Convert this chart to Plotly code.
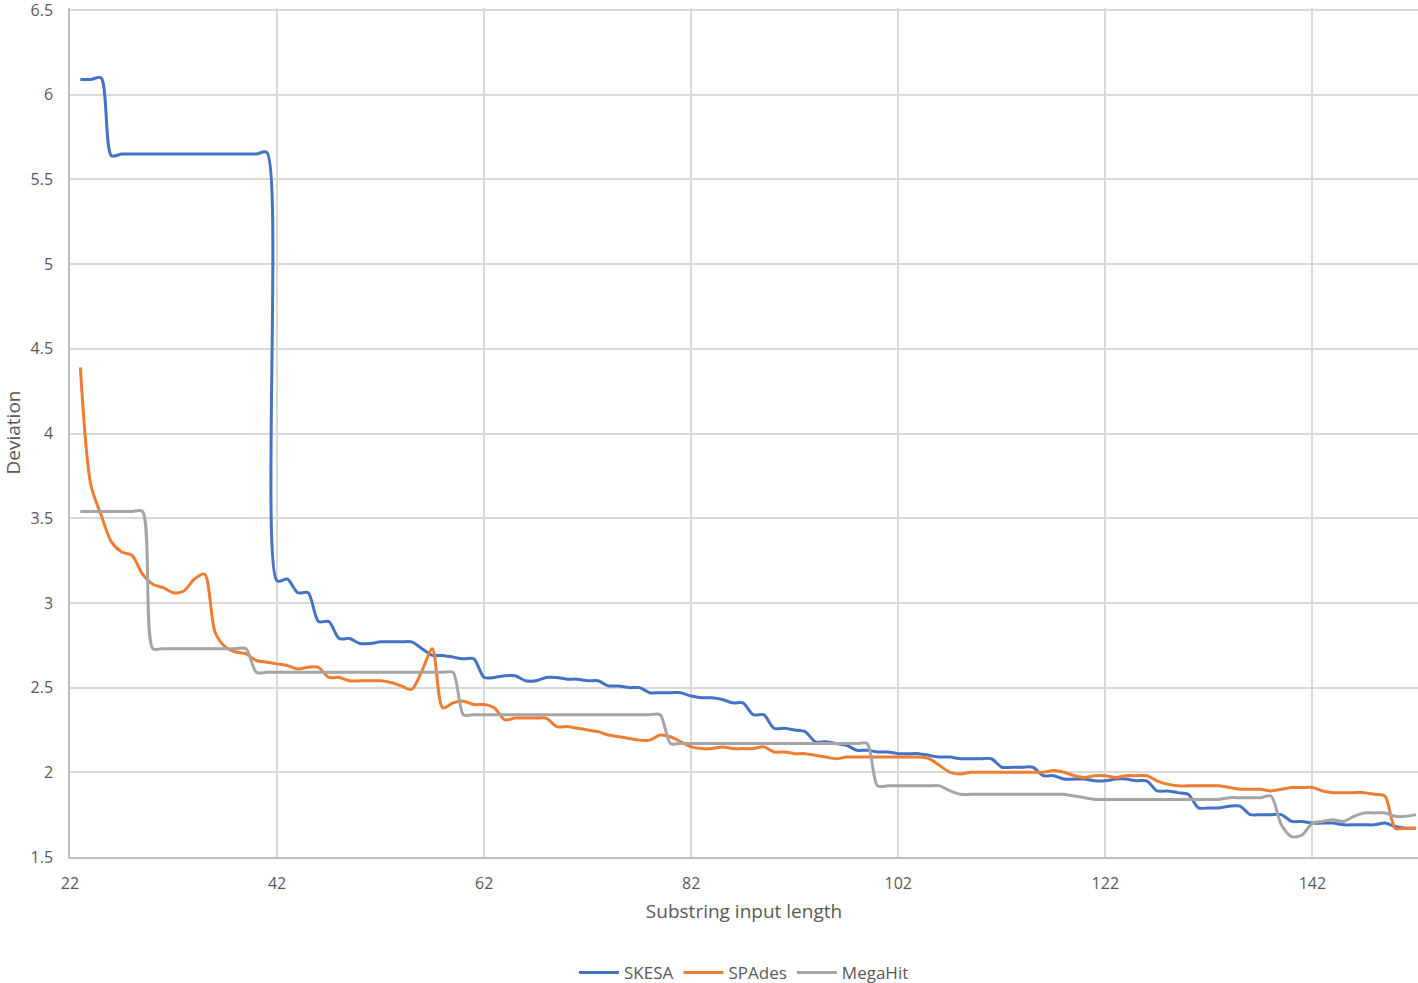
import plotly.graph_objects as go

x_values = list(range(23, 153))

skesa = [
    6.09, 6.09, 6.10, 5.64, 5.65, 5.65, 5.65, 5.65, 5.65, 5.65,   # 23-32
    5.65, 5.65, 5.65, 5.65, 5.65, 5.65, 5.65, 5.65, 5.66, 3.13,   # 33-42
    3.14, 3.06, 3.06, 2.89, 2.89, 2.79, 2.79, 2.76, 2.76, 2.77,   # 43-52
    2.77, 2.77, 2.77, 2.73, 2.69, 2.69, 2.68, 2.67, 2.67, 2.56,   # 53-62
    2.56, 2.57, 2.57, 2.54, 2.54, 2.56, 2.56, 2.55, 2.55, 2.54,   # 63-72
    2.54, 2.51, 2.51, 2.50, 2.50, 2.47, 2.47, 2.47, 2.47, 2.45,   # 73-82
    2.44, 2.44, 2.43, 2.41, 2.41, 2.34, 2.34, 2.26, 2.26, 2.25,   # 83-92
    2.24, 2.18, 2.18, 2.17, 2.16, 2.13, 2.13, 2.12, 2.12, 2.11,   # 93-102
    2.11, 2.11, 2.10, 2.09, 2.09, 2.08, 2.08, 2.08, 2.08, 2.03,   # 103-112
    2.03, 2.03, 2.03, 1.98, 1.98, 1.96, 1.96, 1.96, 1.95, 1.95,   # 113-122
    1.96, 1.96, 1.95, 1.95, 1.89, 1.89, 1.88, 1.87, 1.79, 1.79,   # 123-132
    1.79, 1.80, 1.80, 1.75, 1.75, 1.75, 1.75, 1.71, 1.71, 1.70,   # 133-142
    1.70, 1.70, 1.69, 1.69, 1.69, 1.69, 1.70, 1.68, 1.67, 1.67,   # 143-152
]

spades = [
    4.39, 3.70, 3.52, 3.36, 3.30, 3.28, 3.17, 3.11, 3.09, 3.06,   # 23-32
    3.07, 3.14, 3.17, 2.83, 2.74, 2.71, 2.70, 2.66, 2.65, 2.64,   # 33-42
    2.63, 2.61, 2.62, 2.62, 2.56, 2.56, 2.54, 2.54, 2.54, 2.54,   # 43-52
    2.53, 2.51, 2.49, 2.60, 2.73, 2.38, 2.41, 2.42, 2.40, 2.40,   # 53-62
    2.38, 2.31, 2.32, 2.32, 2.32, 2.32, 2.27, 2.27, 2.26, 2.25,   # 63-72
    2.24, 2.22, 2.21, 2.20, 2.19, 2.19, 2.22, 2.21, 2.18, 2.15,   # 73-82
    2.14, 2.14, 2.15, 2.14, 2.14, 2.14, 2.15, 2.12, 2.12, 2.11,   # 83-92
    2.11, 2.10, 2.09, 2.08, 2.09, 2.09, 2.09, 2.09, 2.09, 2.09,   # 93-102
    2.09, 2.09, 2.08, 2.04, 2.00, 1.99, 2.00, 2.00, 2.00, 2.00,   # 103-112
    2.00, 2.00, 2.00, 2.00, 2.01, 2.00, 1.98, 1.97, 1.98, 1.98,   # 113-122
    1.97, 1.98, 1.98, 1.98, 1.95, 1.93, 1.92, 1.92, 1.92, 1.92,   # 123-132
    1.92, 1.91, 1.90, 1.90, 1.90, 1.89, 1.90, 1.91, 1.91, 1.91,   # 133-142
    1.89, 1.88, 1.88, 1.88, 1.88, 1.87, 1.86, 1.67, 1.67, 1.67,   # 143-152
]

megahit = [
    3.54, 3.54, 3.54, 3.54, 3.54, 3.54, 3.54, 2.73, 2.73, 2.73,   # 23-32
    2.73, 2.73, 2.73, 2.73, 2.73, 2.73, 2.73, 2.59, 2.59, 2.59,   # 33-42
    2.59, 2.59, 2.59, 2.59, 2.59, 2.59, 2.59, 2.59, 2.59, 2.59,   # 43-52
    2.59, 2.59, 2.59, 2.59, 2.59, 2.59, 2.59, 2.34, 2.34, 2.34,   # 53-62
    2.34, 2.34, 2.34, 2.34, 2.34, 2.34, 2.34, 2.34, 2.34, 2.34,   # 63-72
    2.34, 2.34, 2.34, 2.34, 2.34, 2.34, 2.34, 2.17, 2.17, 2.17,   # 73-82
    2.17, 2.17, 2.17, 2.17, 2.17, 2.17, 2.17, 2.17, 2.17, 2.17,   # 83-92
    2.17, 2.17, 2.17, 2.17, 2.17, 2.17, 2.17, 1.92, 1.92, 1.92,   # 93-102
    1.92, 1.92, 1.92, 1.92, 1.89, 1.87, 1.87, 1.87, 1.87, 1.87,   # 103-112
    1.87, 1.87, 1.87, 1.87, 1.87, 1.87, 1.86, 1.85, 1.84, 1.84,   # 113-122
    1.84, 1.84, 1.84, 1.84, 1.84, 1.84, 1.84, 1.84, 1.84, 1.84,   # 123-132
    1.84, 1.85, 1.85, 1.85, 1.85, 1.86, 1.69, 1.62, 1.63, 1.70,   # 133-142
    1.71, 1.72, 1.71, 1.74, 1.76, 1.76, 1.76, 1.74, 1.74, 1.75,   # 143-152
]

series = [
    ("SKESA", skesa, "#4472C4"),
    ("SPAdes", spades, "#ED7D31"),
    ("MegaHit", megahit, "#A5A5A5"),
]

x_ticks = [22, 42, 62, 82, 102, 122, 142]
y_ticks = [1.5, 2, 2.5, 3, 3.5, 4, 4.5, 5, 5.5, 6, 6.5]
y_tick_text = ["1.5", "2", "2.5", "3", "3.5", "4", "4.5", "5", "5.5", "6", "6.5"]

fig = go.Figure()
for name, vals, color in series:
    fig.add_trace(go.Scatter(
        x=x_values, y=vals, name=name, mode="lines",
        line=dict(color=color, width=3, shape="spline", smoothing=0.8),
    ))

font_family = "Open Sans, Liberation Sans, sans-serif"
fig.update_layout(
    width=1418, height=983,
    margin=dict(l=70, r=0, t=8, b=126, autoexpand=False),
    paper_bgcolor="white", plot_bgcolor="white",
    font=dict(family=font_family, size=15, color="#595959"),
    showlegend=True,
    legend=dict(orientation="h", x=0.5, xanchor="center", y=-0.1366, yanchor="middle",
                font=dict(size=17, color="#595959"), itemwidth=40),
    xaxis=dict(
        range=[22, 152.2], tickvals=x_ticks, ticktext=[str(t) for t in x_ticks],
        showgrid=True, gridcolor="#D9D9D9", gridwidth=1.5,
        showline=True, linecolor="#BFBFBF", linewidth=1.5,
        zeroline=False, ticks="", ticklabelstandoff=11, automargin=False,
        ticklabeloverflow="allow",
        tickfont=dict(size=16),
        title=dict(text="Substring input length", font=dict(size=19, color="#595959"), standoff=12),
    ),
    yaxis=dict(
        range=[1.5, 6.512], tickvals=y_ticks, ticktext=y_tick_text,
        showgrid=True, gridcolor="#D9D9D9", gridwidth=1.5,
        showline=True, linecolor="#BFBFBF", linewidth=1.5,
        zeroline=False, ticks="", ticklabelstandoff=12, automargin=False,
        ticklabeloverflow="allow",
        tickfont=dict(size=16),
        title=dict(text="Deviation", font=dict(size=19, color="#595959"), standoff=6),
    ),
)

fig.write_html("out.html", config={"displayModeBar": False},
               post_script="document.body.style.margin='0px';")
